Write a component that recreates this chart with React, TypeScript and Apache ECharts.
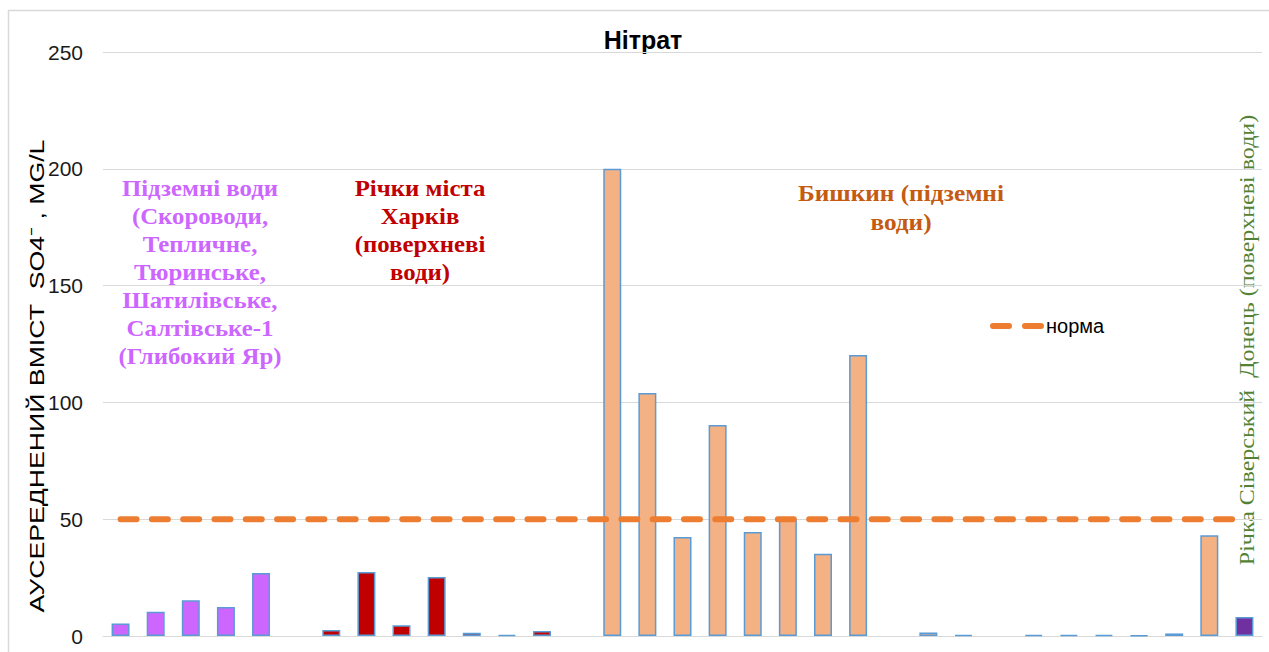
import React, { useEffect, useRef } from "react";
import * as echarts from "echarts";

const categories: string[] = Array.from({ length: 33 }, (_, i) => String(i + 1));

// group of each category: p = purple groundwater, r = Kharkiv rivers, o = Byshkyn, d = Siverskyi Donets, n = none
const groups: string[] = [
  "p", "p", "p", "p", "p", "n",
  "r", "r", "r", "r", "r", "r", "r", "n",
  "o", "o", "o", "o", "o", "o", "o", "o", "n",
  "o", "o", "n", "o", "o", "o", "o", "o", "o",
  "d",
];

const values: (number | null)[] = [
  5.3, 10.4, 15.3, 12.4, 27, null,
  2.6, 27.4, 4.6, 25.3, 1.4, 0.5, 2.1, null,
  200, 104, 42.4, 90.3, 44.5, 50, 35.2, 120.3, null,
  1.5, 0.5, null, 0.5, 0.5, 0.5, 0.3, 1.1, 43.1,
  8.1,
];

const normValue = 50;
const yTicks = [0, 50, 100, 150, 200, 250];

const groupColors: Record<string, string> = {
  p: "#CC66FF",
  r: "#C00000",
  o: "#F4B183",
  d: "#7030A0",
  n: "#FFFFFF",
};

const legendIcon =
  "path://M3,0 H19 A3,3 0 0 1 19,6 H3 A3,3 0 0 1 3,0 Z M35,0 H51 A3,3 0 0 1 51,6 H35 A3,3 0 0 1 35,0 Z";

export default function App() {
  const ref = useRef<HTMLDivElement>(null);
  useEffect(() => {
    if (!ref.current) return;
    const chart = echarts.init(ref.current, undefined, { renderer: "svg" });
    const option: any = {
      animation: false,
      backgroundColor: "#FFFFFF",
      grid: { left: 103, right: 7, top: 52, bottom: 16, containLabel: false },
      legend: {
        data: [{ name: "норма", icon: legendIcon }],
        left: 990,
        top: 316,
        padding: 0,
        itemWidth: 54,
        itemHeight: 6,
        itemGap: 10,
        textStyle: { fontFamily: "Liberation Sans", fontSize: 20, color: "#000000", padding: [0, 0, 0, -3] },
      },
      xAxis: {
        type: "category",
        data: categories,
        axisLine: { show: true, lineStyle: { color: "#D9D9D9", width: 1 } },
        axisTick: { show: false },
        axisLabel: { show: false },
      },
      yAxis: {
        type: "value",
        min: yTicks[0],
        max: yTicks[yTicks.length - 1],
        interval: 50,
        axisLine: { show: false },
        axisTick: { show: false },
        axisLabel: {
          margin: 20,
          fontFamily: "Liberation Sans",
          fontSize: 21,
          color: "#1A1A1A",
        },
        splitLine: { lineStyle: { color: "#D9D9D9", width: 1 } },
      },
      series: [
        {
          type: "bar",
          barWidth: 18,
          data: values.map((v, i) => ({
            value: v,
            itemStyle: { color: groupColors[groups[i]] },
          })),
          itemStyle: { borderColor: "#5B9BD5", borderWidth: 1.5 },
          z: 2,
        },
        {
          name: "норма",
          type: "line",
          data: categories.map(() => normValue),
          symbol: "none",
          lineStyle: { color: "#ED7D31", width: 6, type: [16, 15.3], cap: "round" },
          itemStyle: { color: "#ED7D31" },
          z: 3,
        },
      ],
      graphic: [
        {
          type: "rect",
          shape: { x: 8.5, y: 10.5, width: 1400, height: 800 },
          style: { fill: "none", stroke: "#D9D9D9", lineWidth: 1.5 },
          silent: true,
          z: -10,
        },
        {
          type: "text",
          x: 643,
          y: 40,
          style: {
            text: "Нітрат",
            fontFamily: "Liberation Sans",
            fontWeight: "bold",
            fontSize: 25,
            fill: "#000000",
            textAlign: "center",
            textVerticalAlign: "middle",
          },
        },
        {
          type: "text",
          x: 37,
          y: 376,
          rotation: Math.PI / 2,
          scaleX: 1.27,
          style: {
            text: "АУСЕРЕДНЕНИЙ ВМІСТ  SO4⁻ , MG/L",
            fontFamily: "Liberation Sans",
            fontSize: 21,
            fill: "#000000",
            textAlign: "center",
            textVerticalAlign: "middle",
          },
        },
        {
          type: "text",
          x: 200,
          y: 272,
          scaleX: 1.08,
          style: {
            text: "Підземні води\n(Скороводи,\nТепличне,\nТюринське,\nШатилівське,\nСалтівське-1\n(Глибокий Яр)",
            fontFamily: "Liberation Serif",
            fontWeight: "bold",
            fontSize: 23,
            lineHeight: 28,
            fill: "#CC66FF",
            textAlign: "center",
            textVerticalAlign: "middle",
          },
        },
        {
          type: "text",
          x: 420,
          y: 230,
          scaleX: 1.08,
          style: {
            text: "Річки міста\nХарків\n(поверхневі\nводи)",
            fontFamily: "Liberation Serif",
            fontWeight: "bold",
            fontSize: 23,
            lineHeight: 28,
            fill: "#C00000",
            textAlign: "center",
            textVerticalAlign: "middle",
          },
        },
        {
          type: "text",
          x: 901,
          y: 207,
          scaleX: 1.1,
          style: {
            text: "Бишкин (підземні\nводи)",
            fontFamily: "Liberation Serif",
            fontWeight: "bold",
            fontSize: 23,
            lineHeight: 29,
            fill: "#C55A11",
            textAlign: "center",
            textVerticalAlign: "middle",
          },
        },
        {
          type: "text",
          x: 1246,
          y: 340,
          rotation: Math.PI / 2,
          scaleX: 1.09,
          style: {
            text: "Річка Сіверський  Донець (поверхневі води)",
            fontFamily: "Liberation Serif",
            fontSize: 22,
            fill: "#548235",
            textAlign: "center",
            textVerticalAlign: "middle",
          },
        },
      ],
    };
    chart.setOption(option);
    return () => chart.dispose();
  }, []);
  return (
    <div
      ref={ref}
      style={{ position: "fixed", left: 0, top: 0, width: 1269, height: 652 }}
    />
  );
}
